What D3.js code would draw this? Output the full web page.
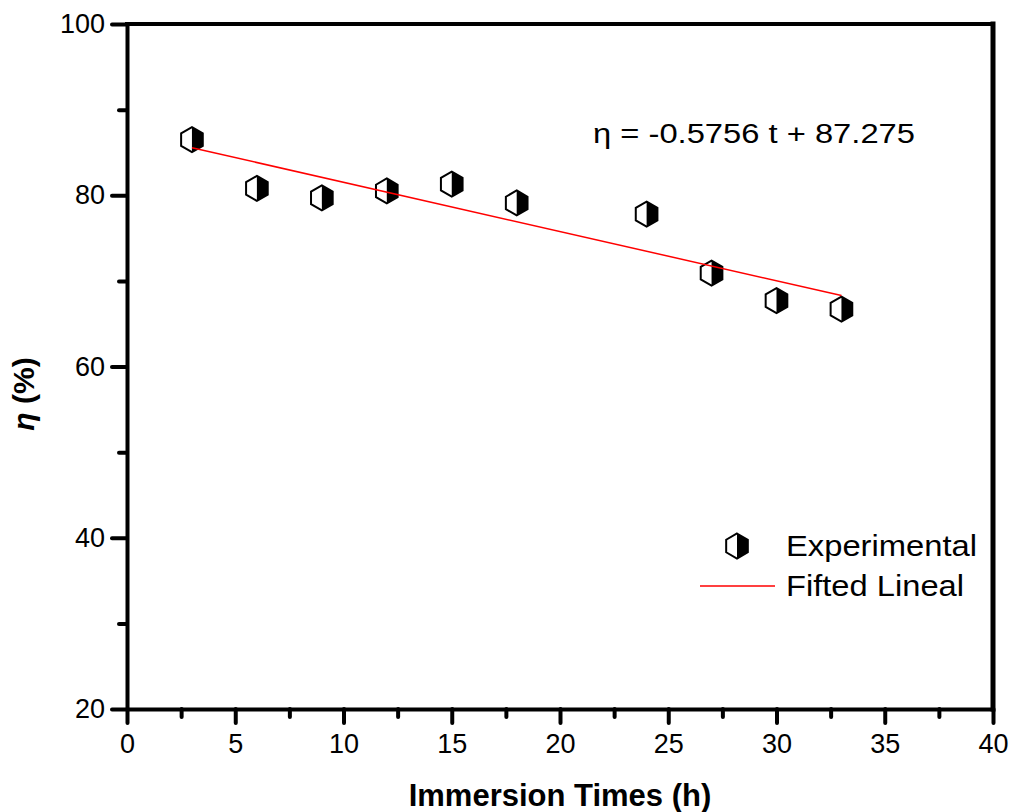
<!DOCTYPE html>
<html>
<head>
<meta charset="utf-8">
<script src="https://cdn.jsdelivr.net/npm/d3@7"></script>
<style>
  body { margin: 0; background: #fff; }
  svg { display: block; font-family: "Liberation Sans", Arial, sans-serif; }
</style>
</head>
<body>
<svg id="chart" width="1011" height="812"></svg>
<script>
// data
const times = [3, 6, 9, 12, 15, 18, 24, 27, 30, 33]
const eta = [86.5, 80.8, 79.7, 80.5, 81.3, 79.1, 77.8, 70.9, 67.7, 66.7]
const fitSlope = -0.5756
const fitIntercept = 87.275
const fitRange = [3, 33]
const xMajor = [0, 5, 10, 15, 20, 25, 30, 35, 40]
const yMajor = [20, 40, 60, 80, 100]

const width = 1011
const height = 812
const margin = { top: 24, right: 18, bottom: 103, left: 127 }

const svg = d3.select("#chart")

const x = d3.scaleLinear().domain([0, 40]).range([margin.left, width - margin.right])
const y = d3.scaleLinear().domain([20, 100]).range([height - margin.bottom, margin.top])

// minor ticks (every half step)
const xMinor = d3.range(2.5, 40, 5)
const yMinor = d3.range(30, 100, 20)

const gx = svg.append("g").attr("transform", `translate(0,${y(20)})`)
gx.call(d3.axisBottom(x).tickValues(xMinor).tickFormat("").tickSize(8).tickSizeOuter(0))
gx.call(g => g.select(".domain").remove())
const gx2 = svg.append("g").attr("transform", `translate(0,${y(20)})`)
gx2.call(d3.axisBottom(x).tickValues(xMajor).tickSize(14).tickPadding(11).tickSizeOuter(0))

const gy = svg.append("g").attr("transform", `translate(${x(0)},0)`)
gy.call(d3.axisLeft(y).tickValues(yMinor).tickFormat("").tickSize(8).tickSizeOuter(0))
gy.call(g => g.select(".domain").remove())
const gy2 = svg.append("g").attr("transform", `translate(${x(0)},0)`)
gy2.call(d3.axisLeft(y).tickValues(yMajor).tickSize(15).tickPadding(7).tickSizeOuter(0))

svg.selectAll(".tick line").attr("stroke", "#000").attr("stroke-width", 4).attr("stroke-linecap", "round")
svg.selectAll(".domain").attr("stroke", "#000").attr("stroke-width", 4)
svg.selectAll(".tick text")
  .attr("fill", "#000")
  .style("font-size", "27px")
  .style("font-family", "'Liberation Sans', Arial, sans-serif")

// top and right frame
svg.append("line")
  .attr("x1", x(0)).attr("x2", x(40)).attr("y1", y(100)).attr("y2", y(100))
  .attr("stroke", "#000").attr("stroke-width", 4).attr("stroke-linecap", "square")
svg.append("line")
  .attr("x1", x(40)).attr("x2", x(40)).attr("y1", y(100)).attr("y2", y(20))
  .attr("stroke", "#000").attr("stroke-width", 5).attr("stroke-linecap", "square")

// half-filled hexagon marker
const R = 12.5
function hexagon(g) {
  const pts = d3.range(6).map(i => {
    const a = (Math.PI / 3) * i - Math.PI / 2
    return [R * Math.cos(a), R * Math.sin(a)]
  })
  const c = R * Math.cos(Math.PI / 6)
  // right half filled black
  g.append("path")
    .attr("d", `M0,${-R}L${c},${-R / 2}L${c},${R / 2}L0,${R}Z`)
    .attr("fill", "#000")
  g.append("path")
    .attr("d", "M" + pts.join("L") + "Z")
    .attr("fill", "none")
    .attr("stroke", "#000")
    .attr("stroke-width", 2)
}

const points = times.map((t, i) => ({ t: t, v: eta[i] }))
svg.append("g")
  .selectAll("g")
  .data(points)
  .join("g")
  .attr("transform", d => `translate(${x(d.t)},${y(d.v)})`)
  .each(function () { hexagon(d3.select(this)) })

// fitted line
svg.append("line")
  .attr("x1", x(fitRange[0])).attr("y1", y(fitSlope * fitRange[0] + fitIntercept))
  .attr("x2", x(fitRange[1])).attr("y2", y(fitSlope * fitRange[1] + fitIntercept))
  .attr("stroke", "#ff0000").attr("stroke-width", 1.5)

// equation
svg.append("text")
  .attr("x", 593).attr("y", 143)
  .attr("textLength", 322).attr("lengthAdjust", "spacingAndGlyphs")
  .style("font-size", "27px")
  .text("η = -0.5756 t + 87.275")

// legend
const leg = svg.append("g")
leg.append("g").attr("transform", "translate(737,546)").call(hexagon)
leg.append("text").attr("x", 786).attr("y", 556)
  .attr("textLength", 191).attr("lengthAdjust", "spacingAndGlyphs")
  .style("font-size", "30px").text("Experimental")
leg.append("line").attr("x1", 700).attr("x2", 775).attr("y1", 586).attr("y2", 586)
  .attr("stroke", "#ff0000").attr("stroke-width", 1.5)
leg.append("text").attr("x", 786).attr("y", 596)
  .attr("textLength", 178).attr("lengthAdjust", "spacingAndGlyphs")
  .style("font-size", "30px").text("Fifted Lineal")

// axis titles
svg.append("text")
  .attr("x", 560).attr("y", 806)
  .attr("text-anchor", "middle")
  .style("font-size", "31px").style("font-weight", "bold")
  .text("Immersion Times (h)")

const yt = svg.append("text")
  .attr("transform", "translate(34,394) rotate(-90)")
  .attr("text-anchor", "middle")
  .style("font-size", "30px").style("font-weight", "bold")
yt.append("tspan").style("font-style", "italic").text("η")
yt.append("tspan").text(" (%)")
</script>
</body>
</html>
